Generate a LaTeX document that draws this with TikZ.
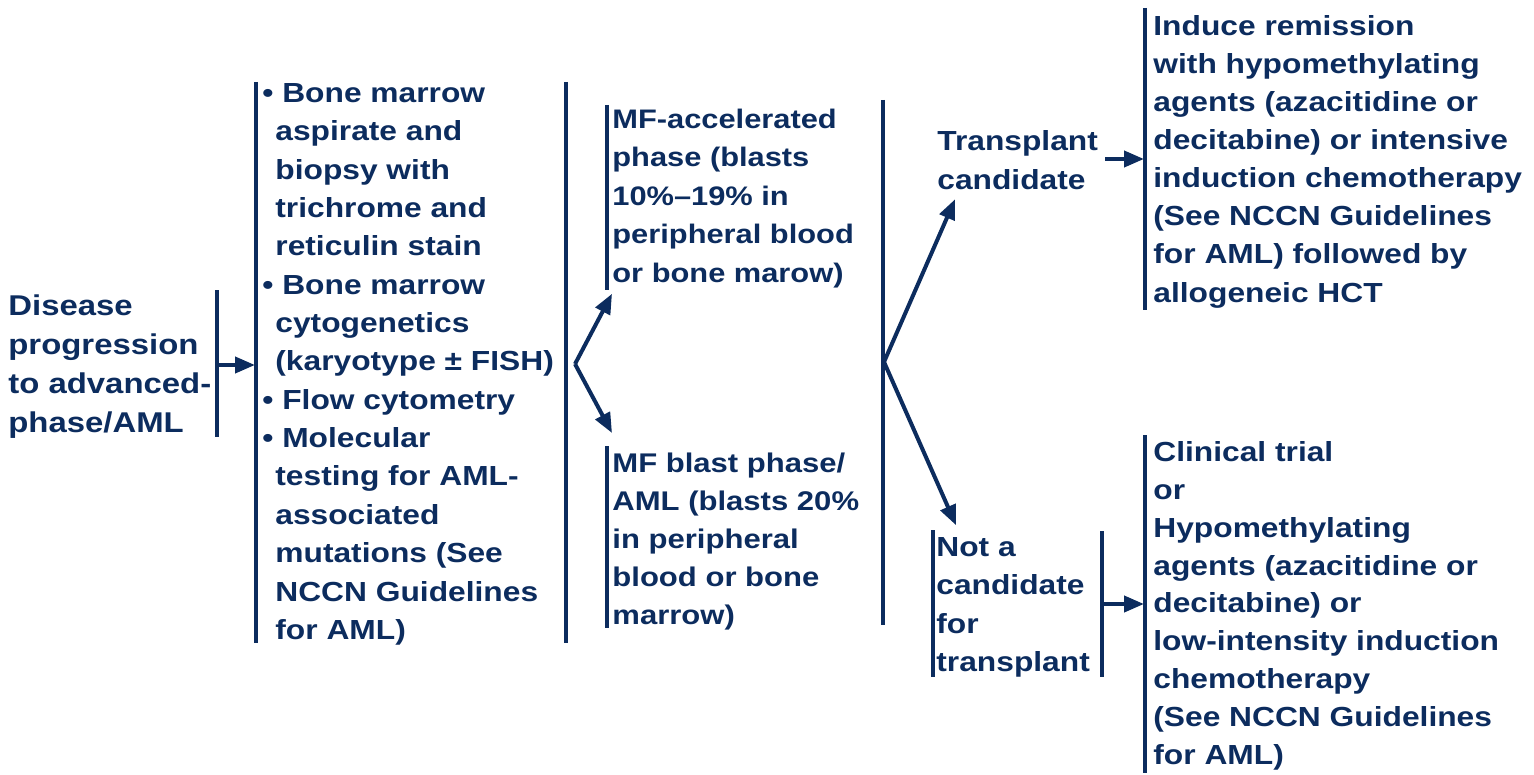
\documentclass[tikz,border=0pt]{standalone}
\usepackage{fontspec}
\usetikzlibrary{arrows.meta}
\newfontfamily\flowfont{Liberation Sans}[FakeStretch=1.15]
\definecolor{navy}{HTML}{0C2C5E}
\newcommand{\fsize}[2]{\flowfont\bfseries\fontsize{#1}{#2}\selectfont}
\tikzset{
  box/.style={anchor=north west, inner sep=0pt, align=left, text=navy},
  bar/.style={navy, line width=2pt},
  arr/.style={navy, line width=2pt, -{Triangle[length=10pt,width=8pt]}},
}

\begin{document}
\begin{tikzpicture}[x=0.5pt,y=-0.5pt]
    \useasboundingbox (0,0) rectangle (1534,775);
    \node[box, font=\fsize{14.3}{19.5}] (disease) at (8,294.5) {Disease\\progression\\to advanced-\\phase/AML};
    \node[box, font=\fsize{13.8}{19.17}] (workup) at (262,83.2) {\textbullet\ Bone marrow\\\hspace*{6.5pt}aspirate and\\\hspace*{6.5pt}biopsy with\\\hspace*{6.5pt}trichrome and\\\hspace*{6.5pt}reticulin stain\\\textbullet\ Bone marrow\\\hspace*{6.5pt}cytogenetics\\\hspace*{6.5pt}(karyotype ± FISH)\\\textbullet\ Flow cytometry\\\textbullet\ Molecular\\\hspace*{6.5pt}testing for AML-\\\hspace*{6.5pt}associated\\\hspace*{6.5pt}mutations (See\\\hspace*{6.5pt}NCCN Guidelines\\\hspace*{6.5pt}for AML)};
    \node[box, font=\fsize{13.4}{19.25}] (accel) at (612,108.6) {MF-accelerated\\phase (blasts\\10\%–19\% in\\peripheral blood\\or bone marow)};
    \node[box, font=\fsize{13.5}{19}] (blast) at (612,452.6) {MF blast phase/\\AML (blasts 20\%\\in peripheral\\blood or bone\\marrow)};
    \node[box, font=\fsize{13.8}{19.3}] (tcand) at (937,130.6) {Transplant\\candidate};
    \node[box, font=\fsize{13.8}{19.15}] (ncand) at (936,537.2) {Not a\\candidate\\for\\transplant};
    \node[box, font=\fsize{13.8}{19.05}] (induce) at (1153,14.9) {Induce remission\\with hypomethylating\\agents (azacitidine or\\decitabine) or intensive\\induction chemotherapy\\(See NCCN Guidelines\\for AML) followed by\\allogeneic HCT};
    \node[box, font=\fsize{13.8}{18.9}] (trial) at (1153,441.3) {Clinical trial\\or\\Hypomethylating\\agents (azacitidine or\\decitabine) or\\low-intensity induction\\chemotherapy\\(See NCCN Guidelines\\for AML)};

    \draw[bar] (217,290) -- (217,437);
    \draw[bar] (256,82) -- (256,643);
    \draw[bar] (566,82) -- (566,643);
    \draw[bar] (607,105) -- (607,290);
    \draw[bar] (607,446) -- (607,628);
    \draw[bar] (883,100) -- (883,625);
    \draw[bar] (933,530) -- (933,677);
    \draw[bar] (1102,531) -- (1102,677);
    \draw[bar] (1145,8) -- (1145,310);
    \draw[bar] (1145,435) -- (1145,773);

    \coordinate (dout) at (219,365);
    \coordinate (win) at (255,365);
    \coordinate (fork1) at (575,364);
    \coordinate (fork2) at (884,362);
    \coordinate (tout) at (1105,159);
    \coordinate (tin) at (1144,159);
    \coordinate (nout) at (1104,604);
    \coordinate (nin) at (1144,604);

    \draw[arr] (dout) -- (win);
    \draw[arr] (fork1) -- ([yshift=-2.7pt]accel.south west);
    \draw[arr] (fork1) -- ([yshift=9.8pt]blast.north west);
    \draw[arr] (fork2) -- ([xshift=9pt,yshift=-4.5pt]tcand.south west);
    \draw[arr] (fork2) -- ([xshift=10pt,yshift=6pt]ncand.north west);
    \draw[arr] (tout) -- (tin);
    \draw[arr] (nout) -- (nin);
\end{tikzpicture}
\end{document}
